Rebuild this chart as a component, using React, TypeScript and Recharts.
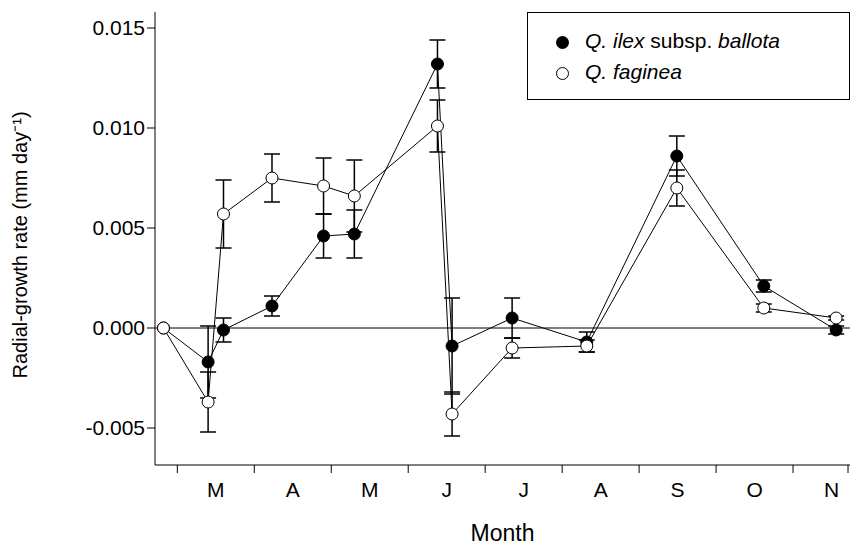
import { ComposedChart, Line, XAxis, YAxis, ErrorBar, ReferenceLine } from 'recharts'

const months = ['M', 'A', 'M', 'J', 'J', 'A', 'S', 'O', 'N']
const sampleX = [-0.18, 0.4, 0.6, 1.23, 1.9, 2.3, 3.38, 3.57, 4.35, 5.32, 6.49, 7.62, 8.56]
const ilex = [0.0, -0.0017, -0.0001, 0.0011, 0.0046, 0.0047, 0.0132, -0.0009, 0.0005, -0.0007, 0.0086, 0.0021, -0.0001]
const ilexErr = [0, 0.0018, 0.0006, 0.0005, 0.0011, 0.0012, 0.0012, 0.0024, 0.001, 0.0005, 0.001, 0.0003, 0.0002]
const faginea = [0.0, -0.0037, 0.0057, 0.0075, 0.0071, 0.0066, 0.0101, -0.0043, -0.001, -0.0009, 0.007, 0.001, 0.0005]
const fagineaErr = [0, 0.0015, 0.0017, 0.0012, 0.0014, 0.0018, 0.0013, 0.0011, 0.0005, 0.0003, 0.0009, 0.0002, 0.0001]
const yTicks = [-0.005, 0, 0.005, 0.01, 0.015]
const xTicks = [0, 1, 2, 3, 4, 5, 6, 7, 8, 9]

const data = sampleX.map((x, i) => ({
  x,
  ilex: ilex[i],
  ilexErr: ilexErr[i],
  fag: faginea[i],
  fagErr: fagineaErr[i],
}))

const font = '"Liberation Sans", Arial, sans-serif'

const MonthTick = (props: any) => {
  const { x, y, payload } = props
  const i = payload.value
  return (
    <g>
      <line x1={x} x2={x} y1={y - 8} y2={y} stroke="#000" />
      {i < months.length && (
        <text x={x + 38.5} y={y + 24} textAnchor="middle" fontSize={21} fontFamily={font} fill="#000">
          {months[i]}
        </text>
      )}
    </g>
  )
}

export default function App() {
  return (
    <div style={{ position: 'absolute', left: 0, top: 0, width: 852, height: 552, background: '#fff' }}>
      <ComposedChart width={852} height={552} data={data} margin={{ top: 12, right: 2, bottom: 57, left: 0 }}>
        <XAxis
          type="number"
          dataKey="x"
          height={30}
          domain={[-0.29, 8.74]}
          ticks={xTicks}
          tick={<MonthTick />}
          tickLine={false}
          stroke="#000"
          label={{ value: 'Month', position: 'bottom', offset: 30, fontSize: 23, fontFamily: font, fill: '#000' }}
        />
        <YAxis
          type="number"
          width={155}
          domain={[-0.00685, 0.0158]}
          ticks={yTicks}
          tickFormatter={(v: number) => v.toFixed(3)}
          tickSize={8}
          stroke="#000"
          tick={{ fontSize: 21, fontFamily: font, fill: '#000' }}
          label={{
            value: 'Radial-growth rate (mm day⁻¹)',
            angle: -90,
            position: 'insideLeft',
            offset: 20,
            dy: 140,
            fontSize: 20,
            fontFamily: font,
            fill: '#000',
          }}
        />
        <ReferenceLine y={0} stroke="#000" />
        <Line
          dataKey="ilex"
          stroke="#000"
          strokeWidth={1}
          isAnimationActive={false}
          dot={{ r: 6, fill: '#000', stroke: '#000', strokeWidth: 1 }}
        >
          <ErrorBar dataKey="ilexErr" width={8} stroke="#000" direction="y" />
        </Line>
        <Line
          dataKey="fag"
          stroke="#000"
          strokeWidth={1}
          isAnimationActive={false}
          dot={{ r: 6, fill: '#fff', stroke: '#000', strokeWidth: 1 }}
        >
          <ErrorBar dataKey="fagErr" width={8} stroke="#000" direction="y" />
        </Line>
      </ComposedChart>
      <div
        style={{
          position: 'absolute', left: 527, top: 12, width: 323, height: 88, border: '1px solid #000',
          boxSizing: 'border-box', fontFamily: font, fontSize: 21, background: '#fff',
        }}
      >
        <div style={{ position: 'absolute', left: 28, top: 23, width: 13, height: 13, borderRadius: '50%', background: '#000' }} />
        <div style={{ position: 'absolute', left: 57, top: 16 }}>
          <i>Q. ilex</i> subsp. <i>ballota</i>
        </div>
        <div style={{ position: 'absolute', left: 28, top: 54, width: 11, height: 11, borderRadius: '50%', border: '1px solid #000' }} />
        <div style={{ position: 'absolute', left: 57, top: 47 }}>
          <i>Q. faginea</i>
        </div>
      </div>
    </div>
  )
}
